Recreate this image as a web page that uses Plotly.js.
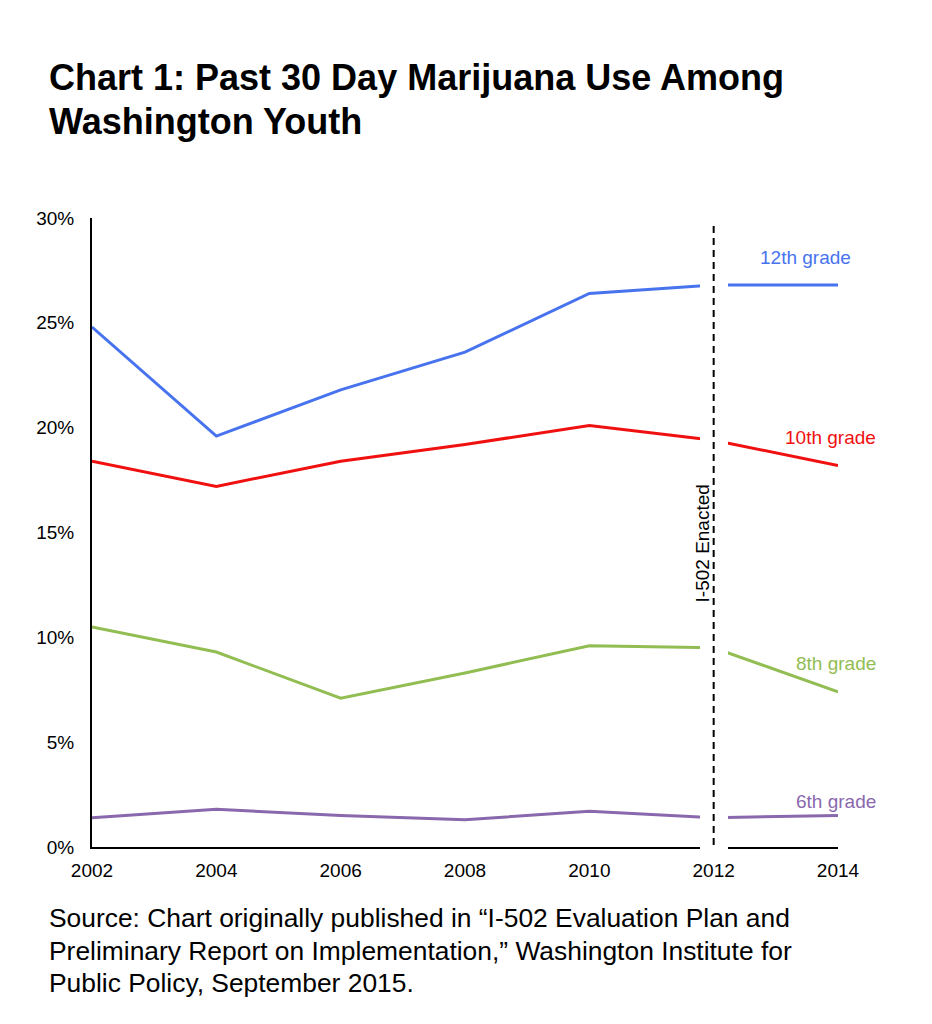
<!DOCTYPE html>
<html><head><meta charset="utf-8">
<script src="https://cdn.plot.ly/plotly-3.0.1.min.js"></script>
<style>body{margin:0;background:#fff}#chart{width:932px;height:1024px}</style>
</head><body><div id="chart"></div>
<script>
const years = [2002, 2004, 2006, 2008, 2010, 2012, 2014];
const grade12 = [24.8, 19.6, 21.8, 23.6, 26.4, 26.8, 26.8];
const grade10 = [18.4, 17.2, 18.4, 19.2, 20.1, 19.4, 18.2];
const grade8 = [10.5, 9.3, 7.1, 8.3, 9.6, 9.5, 7.4];
const grade6 = [1.4, 1.8, 1.5, 1.3, 1.7, 1.4, 1.5];
const seriesNames = ['12th grade', '10th grade', '8th grade', '6th grade'];
const seriesColors = ['#4873ef', '#f01010', '#92bd52', '#8a68ad'];
const yTickVals = [0, 5, 10, 15, 20, 25, 30];
const yTickText = ['0%', '5%', '10%', '15%', '20%', '25%', '30%'];
const eventYear = 2012;
const eventLabel = 'I-502 Enacted';
const titleLines = ['Chart 1: Past 30 Day Marijuana Use Among', 'Washington Youth'];
const sourceLines = ['Source: Chart originally published in \u201cI-502 Evaluation Plan and',
  'Preliminary Report on Implementation,\u201d Washington Institute for',
  'Public Policy, September 2015.'];

const allSeries = [grade12, grade10, grade8, grade6];
const labelY = [28.14, 19.55, 8.77, 2.15];
const labelRightPx = [853, 878, 878, 878];

const FONT = 'Liberation Sans, Arial, sans-serif';
const L = 92, R = 94, T = 218, B = 177;
const pw = 932 - L - R, ph = 1024 - T - B;
const px2x = p => (p - L) / pw;
const px2y = p => (1024 - p - B) / ph;

const traces = allSeries.map((vals, i) => ({
  x: years, y: vals, type: 'scatter', mode: 'lines', name: seriesNames[i],
  line: {color: seriesColors[i], width: 3}, hoverinfo: 'skip'
}));

const annotations = [];
seriesNames.forEach((n, i) => annotations.push({
  x: px2x(labelRightPx[i]), y: labelY[i], xref: 'paper', yref: 'y', text: n, showarrow: false,
  xanchor: 'right', yanchor: 'middle',
  font: {family: FONT, size: 19, color: seriesColors[i]}
}));
annotations.push({
  x: eventYear - 0.18, y: 14.5, xref: 'x', yref: 'y', text: eventLabel, showarrow: false,
  textangle: -90, xanchor: 'center', yanchor: 'middle',
  font: {family: FONT, size: 19, color: '#000'}
});
titleLines.forEach((t, i) => annotations.push({
  x: px2x(47), y: px2y(77 + i * 45), xref: 'paper', yref: 'paper', text: '<b>' + t + '</b>',
  showarrow: false, xanchor: 'left', yanchor: 'middle',
  font: {family: FONT, size: 36, color: '#000'}
}));
sourceLines.forEach((t, i) => annotations.push({
  x: px2x(47), y: px2y(918 + i * 32.5), xref: 'paper', yref: 'paper', text: t,
  showarrow: false, xanchor: 'left', yanchor: 'middle',
  font: {family: FONT, size: 26.4, color: '#000'}
}));

const layout = {
  width: 932, height: 1024,
  margin: {l: L, r: R, t: T, b: B},
  paper_bgcolor: '#fff', plot_bgcolor: '#fff',
  showlegend: false,
  font: {family: FONT, size: 19, color: '#000'},
  xaxis: {
    range: [2002, 2014], tickvals: years, ticktext: years.map(String),
    showgrid: false, zeroline: false, showline: true, linecolor: '#000', linewidth: 2,
    ticks: '', ticklabelstandoff: 5, tickfont: {size: 19}
  },
  yaxis: {
    range: [0, 30], tickvals: yTickVals, ticktext: yTickText,
    showgrid: false, zeroline: false, showline: true, linecolor: '#000', linewidth: 2,
    ticks: '', ticklabelstandoff: 12, tickfont: {size: 19}
  },
  shapes: [
    {type: 'rect', xref: 'x', yref: 'paper', x0: eventYear - 0.22, x1: eventYear + 0.23,
     y0: -0.01, y1: 1.01, fillcolor: '#fff', line: {width: 0}, layer: 'above'},
    {type: 'line', xref: 'x', yref: 'paper', x0: eventYear, x1: eventYear,
     y0: 0.003, y1: 0.995, line: {color: '#000', width: 2, dash: '7px,5px'}, layer: 'above'}
  ],
  annotations: annotations
};

Plotly.newPlot('chart', traces, layout, {displayModeBar: false, staticPlot: true});
</script>
</body></html>
